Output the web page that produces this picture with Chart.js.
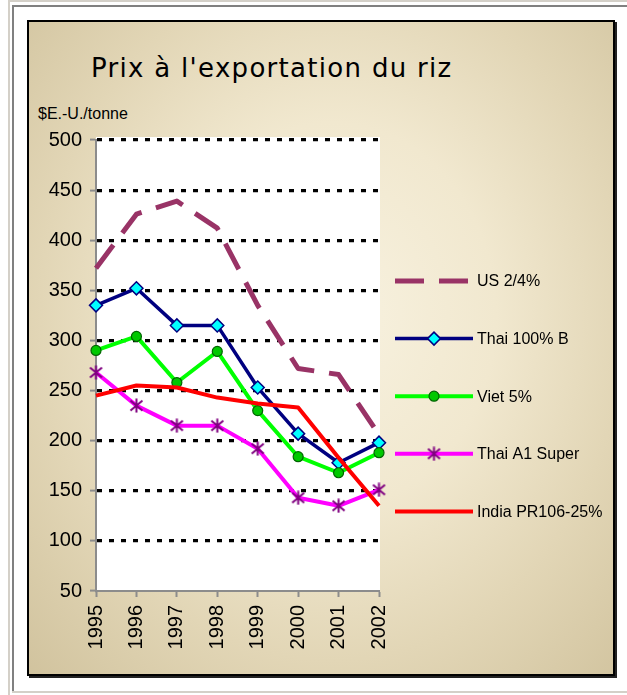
<!DOCTYPE html>
<html>
<head>
<meta charset="utf-8">
<script src="https://cdn.jsdelivr.net/npm/chart.js@4/dist/chart.umd.min.js"></script>
<style>
  html, body { margin:0; padding:0; background:#fff; }
  body { width:627px; height:695px; position:relative; overflow:hidden; }
  .ln { position:absolute; }
  #box { position:absolute; left:27px; top:20px; width:588px; height:656px; box-sizing:border-box;
         border:2px solid #000; box-shadow:2px 2px 0 #222;
         background: radial-gradient(ellipse at 52% 45%, #f8f2e0 0%, #f1e8cf 38%, #e2d6b6 68%, #d1c39e 100%); }
  #title { position:absolute; left:91px; top:55px; font-family:"DejaVu Sans", sans-serif; font-size:26px;
           line-height:26px; letter-spacing:1.3px; color:#000; white-space:nowrap; }
  #unit { position:absolute; left:38px; top:106px; font-family:"Liberation Sans", Arial, sans-serif; font-size:16px;
          line-height:16px; color:#000; white-space:nowrap; }
  #c { position:absolute; left:0; top:0; }
</style>
</head>
<body>
<div class="ln" style="left:8px;top:0;width:619px;height:2px;background:#d4d0c8"></div>
<div class="ln" style="left:8px;top:0;width:2px;height:695px;background:#d4d0c8"></div>
<div class="ln" style="left:12px;top:5px;width:615px;height:2px;background:#808080"></div>
<div class="ln" style="left:12px;top:5px;width:2px;height:687px;background:#808080"></div>
<div class="ln" style="left:12px;top:691px;width:615px;height:2px;background:#d4d0c8"></div>
<div id="box"></div>
<div id="title">Prix à l'exportation du riz</div>
<div id="unit">$E.-U./tonne</div>
<canvas id="c" width="627" height="695"></canvas>
<script>
// ---- data ----
const years = ["1995","1996","1997","1998","1999","2000","2001","2002"];
const us24      = [372, 426, 439, 412, 335, 272, 266, 206];
const thai100B  = [335, 352, 315, 315, 253, 207, 178, 198];
const viet5     = [290, 304, 258, 289, 230, 184, 168, 188];
const thaiA1    = [268, 235, 215, 215, 192, 143, 135, 151];
const indiaPR   = [245, 255, 253, 243, 237, 233, 183, 135];
const seriesNames = ["US 2/4%", "Thai 100% B", "Viet 5%", "Thai A1 Super", "India PR106-25%"];
const yTicks = [50, 100, 150, 200, 250, 300, 350, 400, 450, 500];

// star (asterisk) marker
function makeStar() {
  const c = document.createElement('canvas');
  c.width = 15; c.height = 15;
  const g = c.getContext('2d');
  g.strokeStyle = '#800080'; g.lineWidth = 2; g.lineCap = 'butt';
  g.beginPath();
  g.moveTo(7.5, 0.5); g.lineTo(7.5, 14.5);
  g.moveTo(1.5, 2.5); g.lineTo(13.5, 12.5);
  g.moveTo(13.5, 2.5); g.lineTo(1.5, 12.5);
  g.stroke();
  return c;
}
const starImg = makeStar();

const datasets = [
  { label: seriesNames[0], data: us24, borderColor:'#993366', borderWidth:5, borderDash:[29,15],
    pointRadius:0, pointStyle:false, order:5 },
  { label: seriesNames[1], data: thai100B, borderColor:'#000080', borderWidth:3.5,
    pointStyle:'rectRot', pointRadius:6.5, pointBackgroundColor:'#00ffff', pointBorderColor:'#000080', pointBorderWidth:1.5, order:4 },
  { label: seriesNames[2], data: viet5, borderColor:'#00ff00', borderWidth:4,
    pointStyle:'circle', pointRadius:5, pointBackgroundColor:'#00c800', pointBorderColor:'#006400', pointBorderWidth:1.2, order:3 },
  { label: seriesNames[3], data: thaiA1, borderColor:'#ff00ff', borderWidth:4,
    pointStyle:starImg, pointRadius:7, pointBackgroundColor:'#800080', pointBorderColor:'#800080', pointBorderWidth:2, order:2 },
  { label: seriesNames[4], data: indiaPR, borderColor:'#ff0000', borderWidth:4,
    pointRadius:0, pointStyle:false, order:1 }
].map(d => Object.assign({ tension:0, fill:false, clip:false, borderCapStyle:'butt', borderJoinStyle:'round',
                            pointHoverRadius: d.pointRadius }, d));

const whiteArea = {
  id:'whiteArea',
  beforeDraw(chart) {
    const a = chart.chartArea, ctx = chart.ctx;
    ctx.save(); ctx.fillStyle = '#fff';
    ctx.fillRect(a.left, a.top - 3, a.right - a.left + 1, a.bottom - a.top + 3);
    ctx.restore();
  }
};

const sideLegend = {
  id:'sideLegend',
  afterDraw(chart) {
    const ctx = chart.ctx;
    const x0 = 395, x1 = 473, xm = 434, xt = 477, top = 281, step = 57.6;
    chart.data.datasets.forEach((ds, i) => {
      const y = top + i * step;
      ctx.save();
      ctx.strokeStyle = ds.borderColor; ctx.lineWidth = ds.borderWidth;
      ctx.lineCap = 'butt';
      ctx.setLineDash(ds.borderDash || []);
      ctx.beginPath(); ctx.moveTo(x0, y); ctx.lineTo(x1, y); ctx.stroke();
      ctx.setLineDash([]);
      if (ds.pointStyle) {
        ctx.fillStyle = ds.pointBackgroundColor; ctx.strokeStyle = ds.pointBorderColor;
        ctx.lineWidth = ds.pointBorderWidth;
        Chart.helpers.drawPoint(ctx, { pointStyle: ds.pointStyle, radius: ds.pointRadius, rotation: 0,
                                       borderWidth: ds.pointBorderWidth }, xm, y);
      }
      ctx.fillStyle = '#000'; ctx.font = '16px "Liberation Sans", Arial, sans-serif';
      ctx.textBaseline = 'middle'; ctx.textAlign = 'left';
      ctx.fillText(ds.label, xt, y + 1);
      ctx.restore();
    });
  }
};

new Chart(document.getElementById('c'), {
  type:'line',
  data:{ labels: years, datasets },
  options:{
    responsive:false, animation:false, devicePixelRatio:1,
    layout:{ padding:{ left:30, right:248, top:140, bottom:30 } },
    plugins:{ legend:{ display:false }, title:{ display:false }, tooltip:{ enabled:false } },
    scales:{
      x:{
        type:'category', offset:false,
        afterFit(s){ s.height = 74; },
        grid:{ drawOnChartArea:false, drawTicks:true, tickLength:6, tickColor:'#8c8c8c', tickWidth:2 },
        border:{ display:true, color:'#8c8c8c', width:2 },
        ticks:{ maxRotation:90, minRotation:90, padding:8, color:'#000',
                font:{ family:'"Liberation Sans", Arial, sans-serif', size:20 } }
      },
      y:{
        min:50, max:500,
        afterFit(s){ s.width = 66; },
        afterBuildTicks(s){ s.ticks = yTicks.map(v => ({ value:v })); },
        grid:{ color: c => (c.tick && c.tick.value === 50) ? 'rgba(0,0,0,0)' : '#000',
               lineWidth:3.2, tickBorderDash:[], tickLength:6, tickColor:'#8c8c8c', tickWidth:2 },
        border:{ display:true, color:'#8c8c8c', width:2, dash:[5,7] },
        ticks:{ padding:8, color:'#000', font:{ family:'"Liberation Sans", Arial, sans-serif', size:20 } }
      }
    }
  },
  plugins:[whiteArea, sideLegend]
});
</script>
</body>
</html>
